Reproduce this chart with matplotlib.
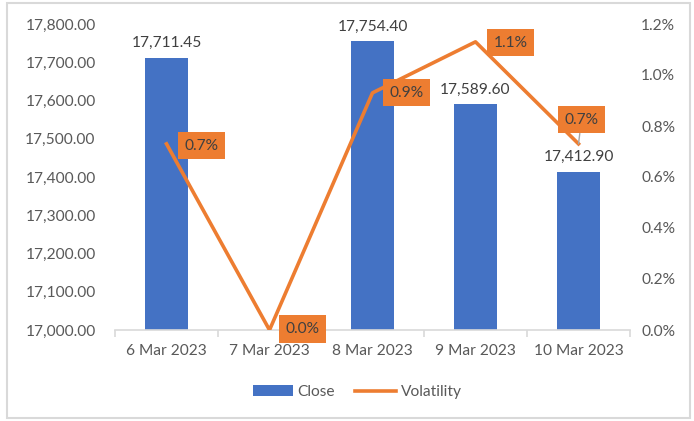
import numpy as np
import matplotlib.pyplot as plt
from matplotlib.patches import Rectangle

plt.rcParams['font.family'] = ['Lato', 'DejaVu Sans']

dates = ['6 Mar 2023', '7 Mar 2023', '8 Mar 2023', '9 Mar 2023', '10 Mar 2023']
close = [17711.45, np.nan, 17754.40, 17589.60, 17412.90]
volatility = [0.73, 0.0, 0.93, 1.13, 0.73]  # percent
close_labels = ['17,711.45', '', '17,754.40', '17,589.60', '17,412.90']

blue = '#4472C4'
orange = '#ED7D31'
txt = '#595959'
fs = 11.2

fig = plt.figure(figsize=(6.94, 4.21), dpi=100)
fig.patches.append(Rectangle((7 / 694, 3 / 421), 683 / 694, 415 / 421,
                             transform=fig.transFigure, fill=False,
                             edgecolor='#d9d9d9', linewidth=1.5))

ax = fig.add_axes([115 / 694, 1 - 330 / 421, 515 / 694, 306 / 421])
x = np.arange(len(dates))
ax.bar(x, close, width=0.41, color=blue, label='Close', zorder=2)
ax.set_ylim(17000, 17800)
ax.set_xlim(-0.5, len(dates) - 0.5)
ax.set_yticks(np.arange(17000, 17801, 100))
ax.set_yticklabels([f'{v:,.2f}' for v in np.arange(17000, 17801, 100)])

for xi, v, lab in zip(x, close, close_labels):
    if lab:
        ax.annotate(lab, (xi, v), xytext=(0, 8), textcoords='offset pixels',
                    ha='center', va='bottom', fontsize=fs, color='#404040')

for s in ['top', 'right', 'left']:
    ax.spines[s].set_visible(False)
ax.spines['bottom'].set_color('#d9d9d9')
ax.spines['bottom'].set_linewidth(1.2)
ax.set_xticks(x)
ax.set_xticklabels(dates)
ax.set_xticks(np.arange(-0.5, len(dates), 1), minor=True)
ax.tick_params(axis='x', which='major', length=0, pad=10, labelsize=fs, labelcolor=txt)
ax.tick_params(axis='x', which='minor', length=5, color='#d9d9d9', width=1.2)
ax.tick_params(axis='y', length=0, pad=14, labelsize=fs, labelcolor=txt)

ax2 = ax.twinx()
ax2.plot(x, volatility, color=orange, linewidth=2.6, label='Volatility', zorder=3)
ax2.set_ylim(0, 1.2)
ax2.set_yticks(np.arange(0, 1.21, 0.2))
ax2.set_yticklabels([f'{v:.1f}%' for v in np.arange(0, 1.21, 0.2)])
ax2.tick_params(axis='y', length=0, pad=8, labelsize=fs, labelcolor=txt)
for s in ax2.spines.values():
    s.set_visible(False)

offsets = [(35, -2), (33, 1), (34, 0), (35, -1), (3, 24)]
for xi, v, off in zip(x, volatility, offsets):
    arrow = dict(arrowstyle='-', color='#a6a6a6', lw=1, shrinkA=0, shrinkB=0) if off[1] > 10 else None
    ax2.annotate(f'{v:.1f}%', (xi, v), xytext=off, textcoords='offset pixels',
                 ha='center', va='center', fontsize=fs, color='#404040',
                 bbox=dict(boxstyle='square,pad=0.42', fc=orange, ec='none'),
                 arrowprops=arrow, zorder=4)

h1, l1 = ax.get_legend_handles_labels()
h2, l2 = ax2.get_legend_handles_labels()
fig.legend(h1 + h2, l1 + l2, loc='center', bbox_to_anchor=(357 / 694, 1 - 392 / 421),
           ncol=2, frameon=False, fontsize=fs, labelcolor=txt,
           handlelength=2.6, handletextpad=0.3, columnspacing=1.3)

fig.savefig('out.png', dpi=100)
